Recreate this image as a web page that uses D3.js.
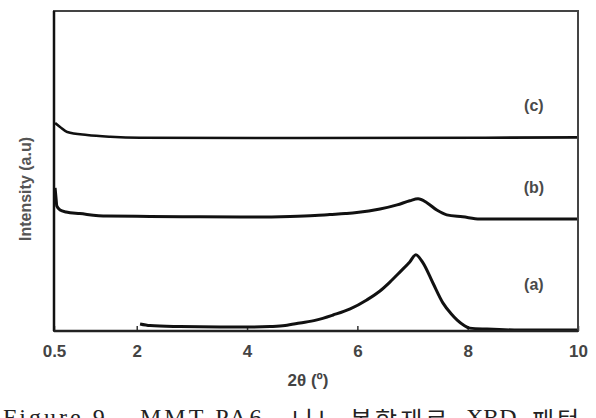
<!DOCTYPE html>
<html>
<head>
<meta charset="utf-8">
<script src="https://cdn.jsdelivr.net/npm/d3@7"></script>
<style>
  body { margin: 0; background: #fff; }
  svg { display: block; }
</style>
</head>
<body>
<script>
// 2theta positions (deg) and intensities (a.u., stacked as plotted)
var xA = [2.06, 2.24, 2.78, 3.51, 4.05, 4.42, 4.69, 4.96, 5.25, 5.56, 5.87, 6.17, 6.41, 6.59, 6.77, 6.95, 7.06, 7.19, 7.37, 7.55, 7.70, 7.81, 7.93, 8.04, 8.35, 8.95, 10];
var yA = [2.2, 1.7, 1.4, 1.25, 1.25, 1.4, 1.7, 2.5, 3.4, 5.0, 6.9, 9.7, 12.5, 15.3, 18.4, 21.6, 23.8, 21.3, 15.0, 8.8, 5.4, 3.4, 1.8, 0.9, 0.6, 0.3, 0.3];

var xB = [0.52, 0.54, 0.55, 0.61, 0.72, 0.97, 1.46, 2.24, 3.15, 4.05, 4.78, 5.23, 5.50, 5.78, 5.99, 6.41, 6.72, 6.95, 7.10, 7.26, 7.44, 7.62, 7.91, 8.22, 8.77, 10];
var yB = [44.7, 40.9, 39.1, 37.8, 37.2, 36.7, 35.9, 35.8, 35.7, 35.6, 35.8, 36.1, 36.4, 36.7, 37.0, 38.1, 39.4, 40.7, 41.3, 40.1, 37.8, 36.3, 35.7, 35.0, 35.0, 35.0];

var xC = [0.52, 0.61, 0.74, 1.10, 1.52, 2.06, 4.96, 10];
var yC = [65.0, 63.75, 62.2, 61.25, 60.7, 60.4, 60.3, 60.5];

var seriesNames = ["(a)", "(b)", "(c)"];
var xTicks = [0.5, 2, 4, 6, 8, 10];

var W = 596, H = 418;
var margin = {top: 11, right: 18, bottom: 87, left: 54};
var width = W - margin.left - margin.right,
    height = H - margin.top - margin.bottom;

var font = "Liberation Sans, Arial, sans-serif";

var svg = d3.select("body").append("svg")
    .attr("width", W)
    .attr("height", H);

var g = svg.append("g")
    .attr("transform", "translate(" + margin.left + "," + margin.top + ")");

var x = d3.scaleLinear().domain([0.5, 10]).range([0, width]);
var y = d3.scaleLinear().domain([0, 100]).range([height, 0]);

// x axis, ticks pointing inward
var xAxis = g.append("g")
    .attr("transform", "translate(0," + height + ")")
    .call(d3.axisBottom(x)
        .tickValues(xTicks)
        .tickFormat(function(d) { return d; })
        .tickSizeInner(-5)
        .tickSizeOuter(0)
        .tickPadding(14));
xAxis.select(".domain").remove();
xAxis.selectAll(".tick line").attr("stroke", "#333").attr("stroke-width", 1.5);
xAxis.selectAll(".tick text")
    .attr("fill", "#444")
    .style("font-family", font)
    .style("font-weight", "bold")
    .style("font-size", "17px");

var line = d3.line()
    .x(function(d) { return x(d[0]); })
    .y(function(d) { return y(d[1]); })
    .curve(d3.curveMonotoneX);

var series = [
  {name: seriesNames[0], pts: d3.zip(xA, yA), w: 3},
  {name: seriesNames[1], pts: d3.zip(xB, yB), w: 3},
  {name: seriesNames[2], pts: d3.zip(xC, yC), w: 2.6}
];

g.selectAll(".curve")
  .data(series)
  .enter().append("path")
    .attr("class", "curve")
    .attr("fill", "none")
    .attr("stroke", "#111")
    .attr("stroke-linejoin", "round")
    .attr("stroke-width", function(d) { return d.w; })
    .attr("d", function(d) { return line(d.pts); });

// series labels, near the right edge above each curve
var labelY = [14.5, 45, 70.5];
g.selectAll(".lab")
  .data(series)
  .enter().append("text")
    .attr("class", "lab")
    .attr("x", x(9.2))
    .attr("y", function(d, i) { return y(labelY[i]); })
    .attr("text-anchor", "middle")
    .attr("dy", "0.35em")
    .attr("fill", "#4a4a4a")
    .style("font-family", font)
    .style("font-weight", "bold")
    .style("font-size", "16px")
    .text(function(d) { return d.name; });

// frame
g.append("rect")
    .attr("width", width)
    .attr("height", height)
    .attr("fill", "none")
    .attr("stroke", "#444")
    .attr("stroke-width", 2);
g.append("line")
    .attr("x1", 0).attr("x2", 0).attr("y1", 0).attr("y2", height)
    .attr("stroke", "#111").attr("stroke-width", 2.5);
g.append("line")
    .attr("x1", 0).attr("x2", width).attr("y1", height).attr("y2", height)
    .attr("stroke", "#222").attr("stroke-width", 2.5);

// axis titles
svg.append("text")
    .attr("x", 308)
    .attr("y", 380)
    .attr("dy", "0.35em")
    .attr("text-anchor", "middle")
    .attr("fill", "#444")
    .style("font-family", font)
    .style("font-weight", "bold")
    .style("font-size", "17px")
    .text("2θ (º)");

svg.append("text")
    .attr("transform", "translate(25,189) rotate(-90)")
    .attr("dy", "0.35em")
    .attr("text-anchor", "middle")
    .attr("fill", "#555")
    .style("font-family", font)
    .style("font-weight", "bold")
    .style("font-size", "16px")
    .text("Intensity (a.u)");

// figure caption, cut off by the bottom edge as in the source
var cap = svg.append("text")
    .attr("fill", "#222")
    .style("font-family", "Liberation Serif, 'Noto Sans CJK KR', serif")
    .style("font-size", "24px");
// [x, text, letter-spacing, baseline]
var capParts = [[3, "Figure 9.", 3, 425], [140, "MMT-PA6", 3, 425], [292, "나노", 3, 429],
                [350, "복합재료", 3, 429], [466, "XRD", 0, 425], [532, "패턴", 3, 429]];
cap.selectAll("tspan")
  .data(capParts)
  .enter().append("tspan")
    .attr("x", function(d) { return d[0]; })
    .attr("y", function(d) { return d[3]; })
    .style("letter-spacing", function(d) { return d[2] + "px"; })
    .text(function(d) { return d[1]; });
</script>
</body>
</html>
